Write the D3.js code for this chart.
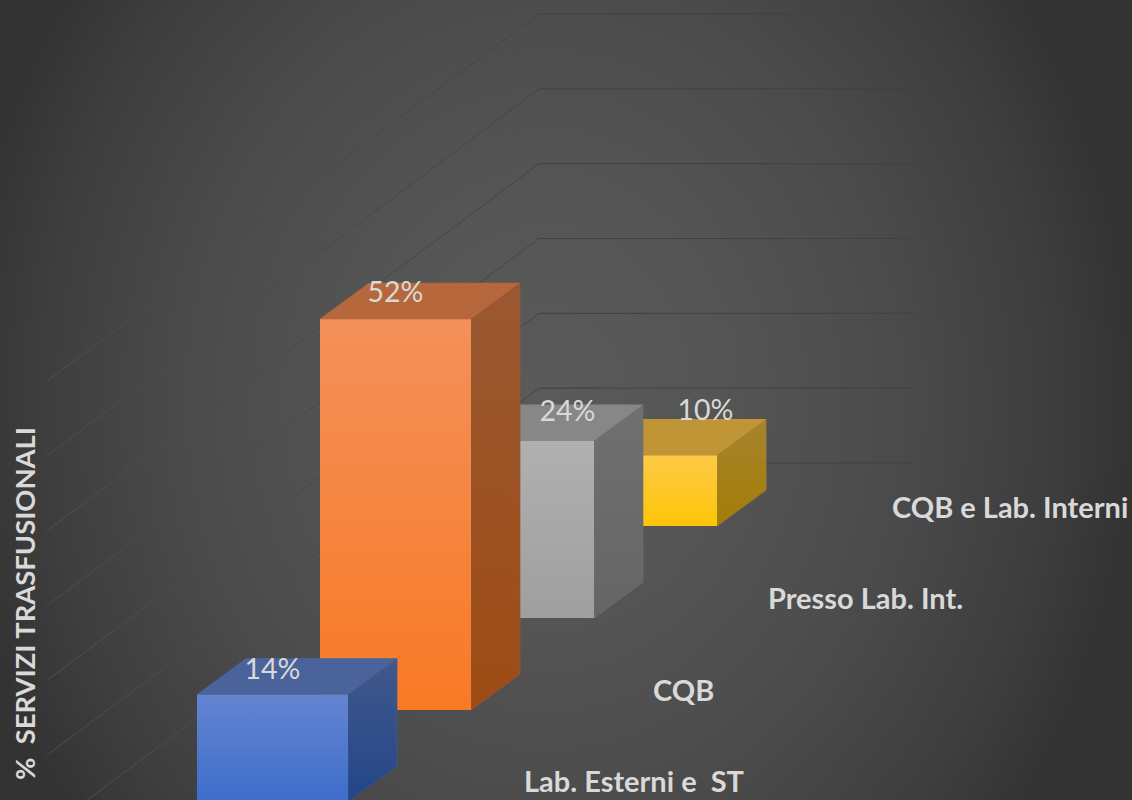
<!DOCTYPE html>
<html><head><meta charset="utf-8">
<script src="https://cdn.jsdelivr.net/npm/d3@7"></script>
<style>html,body{margin:0;padding:0;background:#333;overflow:hidden}svg{display:block}text{font-family:Lato,"Open Sans",sans-serif}</style>
</head><body><svg id="c" width="1132" height="800"></svg>
<script>
const categories = ["Lab. Esterni e  ST", "CQB", "Presso Lab. Int.", "CQB e Lab. Interni"];
const values = [14.3, 52.1, 23.6, 9.4];
const valueLabels = ["14%", "52%", "24%", "10%"];
const gridTicks = [0, 10, 20, 30, 40, 50, 60];
const axisTitle = "%  SERVIZI TRASFUSIONALI";
const palette = [
  {f0:"#6484d0",f1:"#3d6dcb",top:"#4a649b",s0:"#41598c",s1:"#234587"},
  {f0:"#f3905a",f1:"#f97a25",top:"#b6683c",s0:"#9a5832",s1:"#9e4c14"},
  {f0:"#b0b0b0",f1:"#9f9f9f",top:"#878787",s0:"#707070",s1:"#656565"},
  {f0:"#ffc946",f1:"#fdc608",top:"#bf9535",s0:"#a6832f",s1:"#a47e05"}
];

const svg = d3.select("#c"), defs = svg.append("defs");
const W = 1132, H = 800;

// background
const bg = defs.append("radialGradient").attr("id","bg").attr("gradientUnits","userSpaceOnUse")
  .attr("cx",0).attr("cy",0).attr("r",1)
  .attr("gradientTransform","translate(545 400) scale(590 700)");
[[0,"#5a5a5a"],[.3,"#555555"],[.6,"#4b4b4b"],[.85,"#3e3e3e"],[1,"#333333"]]
  .forEach(([o,c])=>bg.append("stop").attr("offset",o).attr("stop-color",c));
svg.append("rect").attr("width",W).attr("height",H).attr("fill","url(#bg)");

// projection scales
const idx = d3.range(categories.length);
const frontX = d3.scalePoint().domain(idx).range([197,566]);
const baseY  = d3.scalePoint().domain(idx).range([802,526]);
const hScale = d3.scaleLinear().domain([0,60]).range([0,450]);
const wallY  = d3.scaleLinear().domain([0,60]).range([463,14]);
const barW = 151, depthX = 49, depthY = 36;
const wallX0 = 539, wallX1 = 915, sideX0 = 47, sideSlope = 0.746;

// gridlines
const diag = defs.append("linearGradient").attr("id","diag").attr("gradientUnits","userSpaceOnUse")
  .attr("x1",sideX0).attr("x2",wallX0).attr("y1",0).attr("y2",0);
diag.append("stop").attr("offset",0).attr("stop-color","#4e4e4e");
diag.append("stop").attr("offset",1).attr("stop-color","#444444");
const g = svg.append("g").attr("fill","none");
g.selectAll(".w").data(gridTicks).join("line").attr("class","w")
  .attr("x1",wallX0).attr("x2",wallX1).attr("y1",d=>wallY(d)).attr("y2",d=>wallY(d))
  .attr("stroke","#414141").attr("stroke-width",1);
g.selectAll(".s").data(gridTicks).join("path").attr("class","s")
  .attr("d",d=>{const y=wallY(d);return `M${wallX0},${y}L${sideX0},${y+(wallX0-sideX0)*sideSlope}`;})
  .attr("stroke","url(#diag)").attr("stroke-width",1);

// bars, back to front
const grad=(id,a,b,o)=>{const l=defs.append("linearGradient").attr("id",id).attr("x1",0).attr("x2",o||0).attr("y1",0).attr("y2",1);
  l.append("stop").attr("offset",0).attr("stop-color",a);l.append("stop").attr("offset",1).attr("stop-color",b);};
idx.slice().reverse().forEach(i=>{
  const p=palette[i],x=frontX(i),b=baseY(i),t=b-hScale(values[i]);
  grad("f"+i,p.f0,p.f1);grad("s"+i,p.s0,p.s1);
  const bar=svg.append("g").attr("stroke-width",1).attr("stroke-linejoin","round");
  bar.append("path").attr("d",`M${x},${t}L${x+depthX},${t-depthY}L${x+barW+depthX},${t-depthY}L${x+barW},${t}Z`)
    .attr("fill",p.top).attr("stroke",p.top);
  bar.append("path").attr("d",`M${x+barW},${t}L${x+barW+depthX},${t-depthY}L${x+barW+depthX},${b-depthY}L${x+barW},${b}Z`)
    .attr("fill",`url(#s${i})`).attr("stroke",p.s0).attr("stroke-opacity",.7);
  bar.append("rect").attr("x",x).attr("y",t).attr("width",barW).attr("height",b-t)
    .attr("fill",`url(#f${i})`);
});

// value labels
const labelShift=[[0,-16],[0,-17],[49,-20],[64,-36]];
svg.selectAll(".v").data(idx).join("text").attr("class","v")
  .attr("x",i=>frontX(i)+barW/2+labelShift[i][0])
  .attr("y",i=>baseY(i)-hScale(values[i])+labelShift[i][1])
  .attr("text-anchor","middle").attr("font-size",28.5).attr("fill","#d9d9d9")
  .text(i=>valueLabels[i]);

// category labels
const catShift=[[327,-10],[333,-9],[325,-9],[326,-8]];
svg.selectAll(".c").data(idx).join("text").attr("class","c")
  .attr("x",i=>frontX(i)+catShift[i][0])
  .attr("y",i=>baseY(i)+catShift[i][1])
  .style("white-space","pre")
  .attr("font-size",29).attr("font-weight",700).attr("fill","#d9d9d9")
  .text(i=>categories[i]);

// axis title
svg.append("text").attr("transform","translate(35,780) rotate(-90)")
  .style("white-space","pre").attr("font-size",27.4).attr("font-weight",700).attr("fill","#d9d9d9")
  .text(axisTitle);
</script></body></html>
